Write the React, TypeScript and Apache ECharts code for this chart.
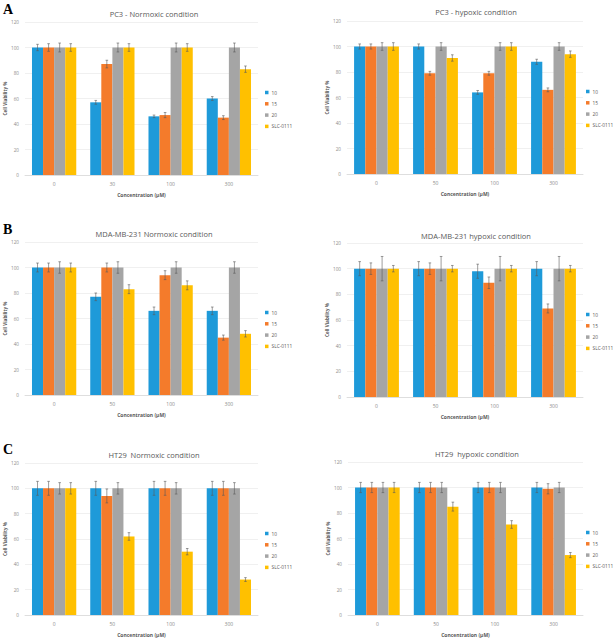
import React, { useEffect, useRef } from "react";
import * as echarts from "echarts";

// ---------- DATA ----------
const seriesNames = ["10", "15", "20", "SLC-0111"];
const yAxisName = "Cell Viability %";
const xAxisName = "Concentration (µM)";

const panelTitles = [
  "PC3 - Normoxic condition",
  "PC3 - hypoxic condition",
  "MDA-MB-231 Normoxic condition",
  "MDA-MB-231 hypoxic condition",
  "HT29  Normoxic condition",
  "HT29  hypoxic condition",
];
const panelLetters = ["A", "B", "C"];

const pc3NormCats = ["0", "30", "100", "300"];
const pc3HypoCats = ["0", "50", "100", "300"];
const mdaCats = ["0", "50", "100", "300"];
const ht29Cats = ["0", "50", "100", "300"];

// values per series: [10, 15, 20, SLC-0111], each over the 4 categories
const pc3NormValues = [
  [100, 57, 46, 60],
  [100, 87, 47, 45],
  [100, 100, 100, 100],
  [100, 100, 100, 83],
];
const pc3NormErrors = [
  [2.5, 1.5, 1, 1.5],
  [3, 3, 2, 1.5],
  [3.5, 3.5, 3.5, 3.5],
  [3, 3, 3, 2.5],
];
const pc3HypoValues = [
  [100, 100, 64, 88],
  [100, 79, 79, 66],
  [100, 100, 100, 100],
  [100, 91, 100, 94],
];
const pc3HypoErrors = [
  [2, 2, 1.5, 2],
  [2, 1.5, 1.5, 1.5],
  [3, 3, 3, 3],
  [3, 2.5, 3, 2.5],
];
const mdaNormValues = [
  [100, 77, 66, 66],
  [100, 100, 94, 45],
  [100, 100, 100, 100],
  [100, 83, 86, 48],
];
const mdaNormErrors = [
  [3.5, 3, 3, 3],
  [3.5, 3.5, 3.5, 2],
  [4.5, 4.5, 4.5, 4.5],
  [3.5, 3.5, 3.5, 2.5],
];
const mdaHypoValues = [
  [100, 100, 98, 100],
  [100, 100, 89, 69],
  [100, 100, 100, 100],
  [100, 100, 100, 100],
];
const mdaHypoErrors = [
  [5.5, 5.5, 5.5, 5.5],
  [4.5, 4.5, 4.5, 3.5],
  [9.5, 9.5, 9.5, 9.5],
  [2.5, 2.5, 2.5, 2.5],
];
const ht29NormValues = [
  [100, 100, 100, 100],
  [100, 94, 100, 100],
  [100, 100, 100, 100],
  [100, 62, 50, 28],
];
const ht29NormErrors = [
  [5.5, 5.5, 5.5, 5.5],
  [5.5, 5.5, 5.5, 5.5],
  [4.5, 4.5, 4.5, 4.5],
  [4.5, 3, 2.5, 1.5],
];
const ht29HypoValues = [
  [100, 100, 100, 100],
  [100, 100, 100, 99],
  [100, 100, 100, 100],
  [100, 85, 71, 47],
];
const ht29HypoErrors = [
  [4, 4, 4, 4],
  [4, 4, 4, 4],
  [4, 4, 4, 4],
  [4, 3.5, 3, 2],
];

const panelCats = [pc3NormCats, pc3HypoCats, mdaCats, mdaCats, ht29Cats, ht29Cats];
const panelValues = [pc3NormValues, pc3HypoValues, mdaNormValues, mdaHypoValues, ht29NormValues, ht29HypoValues];
const panelErrors = [pc3NormErrors, pc3HypoErrors, mdaNormErrors, mdaHypoErrors, ht29NormErrors, ht29HypoErrors];

// ---------- STYLE / LAYOUT ----------
const seriesColors = ["#1E9AD9", "#F47B2B", "#A5A5A5", "#FFC000"];
const FONT = "Open Sans";
const CAT_GAP = 0.24;

// grid boxes [left, top, width, height]
const gridBoxes = [
  [25, 22, 233, 153],
  [347, 21, 236, 153],
  [25, 242, 233, 153],
  [347, 243, 236, 154],
  [25, 463, 233, 153],
  [348, 462, 235, 153],
];
const titlePos = [
  [149, 5],
  [471, 3],
  [149, 225],
  [471, 227],
  [149, 446],
  [472, 445],
];
const legendPos = [
  [265, 90],
  [586, 89],
  [265, 310],
  [586, 312],
  [265, 531],
  [586, 530],
];
const letterPos = [
  [8, 9],
  [8, 229],
  [8, 449],
];

export default function App() {
  const ref = useRef<HTMLDivElement>(null);

  useEffect(() => {
    if (!ref.current) return;
    const chart = echarts.init(ref.current, undefined, { renderer: "svg" });

    const grids: any[] = [];
    const xAxes: any[] = [];
    const yAxes: any[] = [];
    const titles: any[] = [];
    const legends: any[] = [];
    const series: any[] = [];

    for (let p = 0; p < 6; p++) {
      const [l, t, w, h] = gridBoxes[p];
      grids.push({ left: l, top: t, width: w, height: h, containLabel: false });
      xAxes.push({
        type: "category",
        gridIndex: p,
        data: panelCats[p],
        axisLine: { lineStyle: { color: "#d9d9d9", width: 0.8 } },
        axisTick: { show: false },
        axisLabel: { color: "#8a8a8a", fontSize: 5, fontFamily: FONT, margin: 6 },
        name: xAxisName,
        nameLocation: "middle",
        nameGap: 17,
        nameTextStyle: { color: "#595959", fontSize: 5, fontWeight: "bold", fontFamily: FONT },
      });
      yAxes.push({
        type: "value",
        gridIndex: p,
        min: 0,
        max: 120,
        interval: 20,
        axisLine: { show: false },
        axisTick: { show: false },
        splitLine: { lineStyle: { color: "#ececec", width: 0.8 } },
        axisLabel: { color: "#8a8a8a", fontSize: 4.6, fontFamily: FONT, margin: 6 },
        name: yAxisName,
        nameLocation: "middle",
        nameGap: 16,
        nameTextStyle: { color: "#595959", fontSize: 4.6, fontWeight: "bold", fontFamily: FONT },
      });
      titles.push({
        text: panelTitles[p],
        left: titlePos[p][0],
        top: titlePos[p][1],
        textAlign: "center",
        textStyle: { color: "#595959", fontSize: 7.5, fontWeight: "normal", fontFamily: FONT },
      });
      legends.push({
        data: seriesNames,
        orient: "vertical",
        left: legendPos[p][0],
        top: legendPos[p][1],
        itemWidth: 3.5,
        itemHeight: 3.5,
        itemGap: 6.3,
        icon: "rect",
        padding: 0,
        selectedMode: false,
        textStyle: { color: "#595959", fontSize: 4.8, fontFamily: FONT, padding: [0, 0, 0, -2] },
      });

      for (let s = 0; s < 4; s++) {
        series.push({
          type: "bar",
          name: seriesNames[s],
          xAxisIndex: p,
          yAxisIndex: p,
          data: panelValues[p][s],
          barGap: "0%",
          barCategoryGap: CAT_GAP * 100 + "%",
          itemStyle: { color: seriesColors[s] },
        });
      }

      const errData: number[][] = [];
      for (let s = 0; s < 4; s++) {
        for (let c = 0; c < 4; c++) {
          errData.push([c, panelValues[p][s][c], panelErrors[p][s][c], s]);
        }
      }
      series.push({
        type: "custom",
        name: "err" + p,
        xAxisIndex: p,
        yAxisIndex: p,
        z: 10,
        encode: { x: 0, y: 1 },
        data: errData,
        renderItem: (params: any, api: any) => {
          const cat = api.value(0);
          const val = api.value(1);
          const err = api.value(2);
          const si = api.value(3);
          const catW = api.size([1, 0])[0];
          const groupW = catW * (1 - CAT_GAP);
          const bw = groupW / 4;
          const base = api.coord([cat, val]);
          const x = base[0] - groupW / 2 + bw * (si + 0.5);
          const yTop = api.coord([cat, val + err])[1];
          const yBot = api.coord([cat, val - err])[1];
          const cap = 1.3;
          const st = { stroke: "#5a5a5a", lineWidth: 0.6 };
          return {
            type: "group",
            children: [
              { type: "line", shape: { x1: x, y1: yTop, x2: x, y2: yBot }, style: st },
              { type: "line", shape: { x1: x - cap, y1: yTop, x2: x + cap, y2: yTop }, style: st },
              { type: "line", shape: { x1: x - cap, y1: yBot, x2: x + cap, y2: yBot }, style: st },
            ],
          };
        },
      });
    }

    const graphics = panelLetters.map((txt, i) => ({
      type: "text",
      left: letterPos[i][0] - 5,
      top: letterPos[i][1] - 7,
      style: {
        text: txt,
        fill: "#000",
        font: "bold 14px 'Liberation Serif', 'DejaVu Serif', serif",
      },
    }));

    chart.setOption({
      animation: false,
      backgroundColor: "#ffffff",
      title: titles,
      legend: legends,
      grid: grids,
      xAxis: xAxes,
      yAxis: yAxes,
      series,
      graphic: graphics,
    });

    return () => chart.dispose();
  }, []);

  return (
    <div
      ref={ref}
      style={{ position: "absolute", left: 0, top: 0, width: 615, height: 638, background: "#fff" }}
    />
  );
}
